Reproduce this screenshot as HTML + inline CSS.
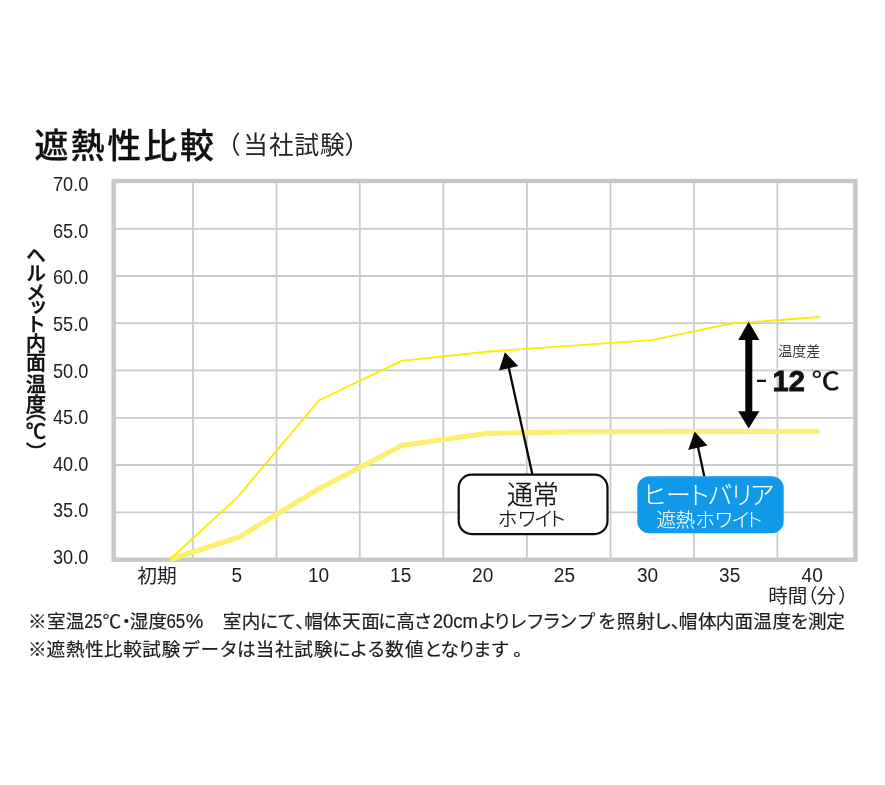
<!DOCTYPE html>
<html lang="ja">
<head>
<meta charset="utf-8">
<title>遮熱性比較</title>
<style>
html,body{margin:0;padding:0;background:#fff;}
body{width:885px;height:785px;overflow:hidden;position:relative;}
svg{position:absolute;left:0;top:0;display:block;}
text{font-family:"Liberation Sans","Noto Sans CJK JP",sans-serif;fill:#1f1f1f;}
.jp{font-family:"Liberation Sans","Noto Sans CJK JP",sans-serif;}
.ax text{font-size:20.8px;fill:#1e1e1e;}
.axx text{font-size:20px;fill:#1e1e1e;}
.fn{font-size:18.6px;fill:#1e1e1e;stroke:#1e1e1e;stroke-width:0.2px;}
.vt{font-size:20px;font-weight:500;fill:#111;stroke:#111;stroke-width:0.45px;writing-mode:vertical-rl;}
</style>
</head>
<body>
<svg width="885" height="785" viewBox="0 0 885 785">
<rect x="0" y="0" width="885" height="785" fill="#fff"/>

<!-- grid -->
<g stroke="#cbcbcb" stroke-width="1.8" fill="none">
<line x1="193" y1="181" x2="193" y2="560"/>
<line x1="276.5" y1="181" x2="276.5" y2="560"/>
<line x1="359.8" y1="181" x2="359.8" y2="560"/>
<line x1="443.3" y1="181" x2="443.3" y2="560"/>
<line x1="526.9" y1="181" x2="526.9" y2="560"/>
<line x1="610.6" y1="181" x2="610.6" y2="560"/>
<line x1="693.9" y1="181" x2="693.9" y2="560"/>
<line x1="777.4" y1="181" x2="777.4" y2="560"/>
<line x1="114" y1="228.8" x2="855" y2="228.8"/>
<line x1="114" y1="276.0" x2="855" y2="276.0"/>
<line x1="114" y1="323.2" x2="855" y2="323.2"/>
<line x1="114" y1="370.4" x2="855" y2="370.4"/>
<line x1="114" y1="417.9" x2="855" y2="417.9"/>
<line x1="114" y1="465.0" x2="855" y2="465.0"/>
<line x1="114" y1="512.4" x2="855" y2="512.4"/>
</g>
<rect x="113.7" y="181" width="741.7" height="378.7" fill="none" stroke="#c8c8c8" stroke-width="4.4"/>

<!-- data lines -->
<polyline fill="none" stroke="#fcef72" stroke-width="5.1" stroke-linejoin="round" stroke-linecap="butt"
 points="170,559.5 239,537 318.5,489 401.8,445.6 486,433.4 568,431.9 819.5,431.3"/>
<polyline fill="none" stroke="#fbec00" stroke-width="1.8" stroke-linejoin="round" stroke-linecap="round"
 points="170,559.5 237.8,496.9 319.2,400.2 401.4,360.9 489,351.5 651.6,340.1 732.3,323.4 819.8,317"/>

<!-- arrows -->
<g stroke="#080808" stroke-width="2.3" fill="none">
<line x1="532.4" y1="474.5" x2="508.6" y2="367"/>
<line x1="704.3" y1="476.5" x2="698" y2="447"/>
</g>
<polygon points="504.9,352.3 499,370.6 518.2,365.9" fill="#080808"/>
<polygon points="694.6,431.6 688.2,450 707.4,445.6" fill="#080808"/>

<!-- double arrow -->
<g fill="#060606">
<rect x="745.3" y="338" width="7" height="75"/>
<polygon points="748.7,321.8 738.2,339.9 759.4,339.9"/>
<polygon points="748.7,428.6 738.2,411.3 759.4,411.3"/>
</g>

<!-- callout boxes -->
<rect x="458.7" y="474.6" width="148.8" height="59.5" rx="13" ry="13" fill="#fff" fill-opacity="0.93" stroke="#0c0c0c" stroke-width="2.2"/>
<rect x="637.3" y="476.2" width="146.4" height="57" rx="12" ry="12" fill="#1099e8"/>

<text y="503.6" x="507.1 532.7" font-size="26" font-weight="300" style="fill:#111;stroke:#111;stroke-width:0.35px">通常</text>
<text y="526.4" x="497.7 517.2 533.9 547.3" font-size="19.5" font-weight="300" style="fill:#111;stroke:#111;stroke-width:0.3px">ホワイト</text>
<text y="504.1" x="642.1 665.9 686.2 707.6 729.6 749.7" font-size="25" font-weight="300" style="fill:#fff;stroke:#fff;stroke-width:0.15px">ヒートバリア</text>
<text y="526.6" x="656.5 675.6 695.6 714.2 731.6 744.2" font-size="19.4" font-weight="300" style="fill:#fff;stroke:#fff;stroke-width:0.15px">遮熱ホワイト</text>

<!-- temp diff -->
<text x="778.2" y="356.2" font-size="14" font-weight="400" style="fill:#3a3a3a">温度差</text>
<rect x="757" y="379.7" width="9" height="2.3" fill="#111"/>
<text x="772.6" y="391.2" font-size="29" font-weight="700" style="fill:#111;stroke:#111;stroke-width:0.9px">12</text>
<text x="811.6" y="390.4" font-size="24.6" font-weight="500" textLength="28.4" lengthAdjust="spacingAndGlyphs" style="fill:#111">℃</text>

<!-- title -->
<text x="34.4" y="158.2" font-size="33.8" font-weight="500" letter-spacing="2.6" style="fill:#111;stroke:#111;stroke-width:0.3px">遮熱性比較</text>
<text y="154" font-size="24.6" font-weight="400" style="fill:#222"><tspan x="216.1">（</tspan><tspan x="243.3 268.9 294.4 320">当社試験</tspan><tspan x="344.6">）</tspan></text>

<!-- y axis labels -->
<g class="ax">
<text x="53" y="191.2" textLength="35.4" lengthAdjust="spacingAndGlyphs">70.0</text>
<text x="53" y="237.8" textLength="35.4" lengthAdjust="spacingAndGlyphs">65.0</text>
<text x="53" y="284.4" textLength="35.4" lengthAdjust="spacingAndGlyphs">60.0</text>
<text x="53" y="331.0" textLength="35.4" lengthAdjust="spacingAndGlyphs">55.0</text>
<text x="53" y="377.6" textLength="35.4" lengthAdjust="spacingAndGlyphs">50.0</text>
<text x="53" y="424.2" textLength="35.4" lengthAdjust="spacingAndGlyphs">45.0</text>
<text x="53" y="470.8" textLength="35.4" lengthAdjust="spacingAndGlyphs">40.0</text>
<text x="53" y="517.4" textLength="35.4" lengthAdjust="spacingAndGlyphs">35.0</text>
<text x="53" y="564.0" textLength="35.4" lengthAdjust="spacingAndGlyphs">30.0</text>
</g>

<!-- y axis title (vertical) -->
<text class="vt" x="34.4" y="245.3 263.5 282.2 297.5 314.0 333.9 352.9 374.0 394.2 401.4 421.7 442.6">ヘルメット内面温度（℃）</text>

<!-- x axis labels -->
<text x="157" y="582.6" text-anchor="middle" style="font-size:19.8px;fill:#222">初期</text>
<g class="axx">
<text x="231.5" y="581.6" textLength="10.6" lengthAdjust="spacingAndGlyphs">5</text>
<text x="307.9" y="581.6" textLength="21.2" lengthAdjust="spacingAndGlyphs">10</text>
<text x="390.1" y="581.6" textLength="21.2" lengthAdjust="spacingAndGlyphs">15</text>
<text x="472.1" y="581.6" textLength="21.2" lengthAdjust="spacingAndGlyphs">20</text>
<text x="553.8" y="581.6" textLength="21.2" lengthAdjust="spacingAndGlyphs">25</text>
<text x="636.9" y="581.6" textLength="21.2" lengthAdjust="spacingAndGlyphs">30</text>
<text x="719.1" y="581.6" textLength="21.2" lengthAdjust="spacingAndGlyphs">35</text>
<text x="801.6" y="581.6" textLength="21.2" lengthAdjust="spacingAndGlyphs">40</text>
</g>
<text y="602.5" font-size="19.6" style="fill:#222"><tspan x="768.3 787.8">時間</tspan><tspan x="798">（</tspan><tspan x="816.5">分</tspan><tspan x="838">）</tspan></text>

<!-- footnotes -->
<text class="fn" y="628.0"><tspan x="28.1 46.9 65.7">※室温</tspan><tspan x="84.2" font-size="20.5" textLength="18.1" lengthAdjust="spacingAndGlyphs">25</tspan><tspan x="102.4 117.0 129.8 148.5">℃・湿度</tspan><tspan x="166.4" font-size="20.5" textLength="18.8" lengthAdjust="spacingAndGlyphs">65</tspan><tspan x="185.7" font-size="20.5" textLength="17.6" lengthAdjust="spacingAndGlyphs">%</tspan><tspan x="204.0 222.8 241.8 259.8 277.3 295.2 304.2 322.8 342.1 361.3 378.3 396.3 413.8">　室内にて、帽体天面に高さ</tspan><tspan x="432.7" font-size="20.5" textLength="45.3" lengthAdjust="spacingAndGlyphs">20cm</tspan><tspan x="478.0 493.1 508.8 526.1 542.3 558.8 576.8 597.9 616.8 636.3 653.2 670.8 678.7 698.0 715.8 734.4 753.2 772.4 790.4 808.1 826.3">よりレフランプを照射し、帽体内面温度を測定</tspan></text>
<text class="fn" y="656.4"><tspan x="28.1 46.6 66.0 85.3 104.0 123.2 142.3 161.7 181.5 200.4 219.3 237.0 255.8 275.1 294.2 313.9 332.3 349.5 367.1 385.3 405.1 423.9 440.4 457.6 472.9 490.8 513.3">※遮熱性比較試験データは当社試験による数値となります。</tspan></text>
</svg>
</body>
</html>
